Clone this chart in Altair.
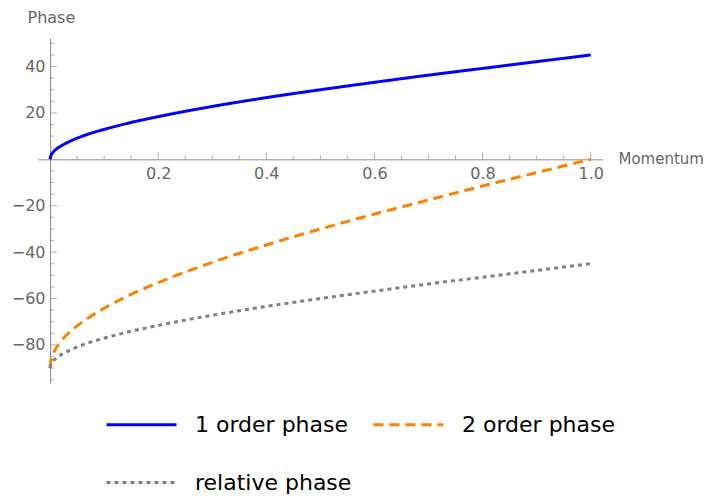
import altair as alt
import pandas as pd

# Sample momenta
momentum = [0, 0.002, 0.005, 0.01, 0.02, 0.03, 0.05, 0.075, 0.1, 0.15, 0.2,
            0.25, 0.3, 0.4, 0.5, 0.6, 0.7, 0.8, 0.9, 1.0]
order1 = [0, 1.8, 2.9, 4.1, 5.7, 7.0, 9.1, 11.2, 12.9, 15.9, 18.4,
          20.7, 22.8, 26.6, 30.0, 33.2, 36.3, 39.2, 42.1, 45.0]
order2 = [-90, -86.4, -84.3, -81.9, -78.5, -75.9, -71.8, -67.7, -64.2, -58.2, -53.1,
          -48.6, -44.4, -36.9, -30.0, -23.6, -17.5, -11.5, -5.7, 0.0]
relative = [-90, -88.2, -87.1, -86.0, -84.3, -83.0, -80.9, -78.8, -77.1, -74.1, -71.6,
            -69.3, -67.2, -63.4, -60.0, -56.8, -53.7, -50.8, -47.9, -45.0]
series_names = ["1 order phase", "2 order phase", "relative phase"]
series_colors = ["#0000ff", "#ff8000", "#808080"]
series_dashes = [[1, 0], [10, 6], [4, 4]]

x_major = [0.2, 0.4, 0.6, 0.8, 1.0]
x_minor = [0.05, 0.1, 0.15, 0.25, 0.3, 0.35, 0.45, 0.5, 0.55, 0.65, 0.7, 0.75,
           0.85, 0.9, 0.95]
y_major = [40, 20, -20, -40, -60, -80]
y_minor = [50, 45, 35, 30, 25, 15, 10, 5, -5, -10, -15, -25, -30, -35, -45, -50,
           -55, -65, -70, -75, -85, -90, -95]

rows = []
for name, vals in zip(series_names, [order1, order2, relative]):
    for m, v in zip(momentum, vals):
        rows.append({"Momentum": m, "Phase": v, "series": name})
df = pd.DataFrame(rows)

W, H = 564, 345
XDOM = [-0.0222, 1.0209]
YDOM = [-96.4, 52.3]
FONT = "DejaVu Sans"
AX = "#8a8a8a"
LAB = "#666666"

xscale = alt.Scale(domain=XDOM, nice=False, zero=False)
yscale = alt.Scale(domain=YDOM, nice=False, zero=False)

legend = alt.Legend(
    title=None, orient="none", legendX=67, legendY=350, columns=2, direction="horizontal",
    symbolType="stroke", symbolSize=4900, symbolStrokeWidth=3,
    labelFontSize=22, labelFont=FONT, labelColor="black", labelOffset=17,
    columnPadding=15, rowPadding=10,
)

lines = alt.Chart(df).mark_line(strokeWidth=3, interpolate="monotone").encode(
    x=alt.X("Momentum:Q", scale=xscale,
            axis=alt.Axis(orient="bottom", offset=-223.7, values=x_major, ticks=False,
                          format=".1f", labelFontSize=16, labelFont=FONT, labelColor=LAB,
                          labelPadding=6, domainColor=AX, grid=False,
                          title="Momentum", titleFont=FONT, titleFontSize=15,
                          titleFontWeight="normal", titleColor=LAB, titleAngle=0,
                          titleAlign="left", titleBaseline="middle",
                          titleX=580, titleY=-1)),
    y=alt.Y("Phase:Q", scale=yscale,
            axis=alt.Axis(orient="left", offset=-12, values=y_major, ticks=False,
                          labelFontSize=16, labelFont=FONT, labelColor=LAB,
                          labelPadding=5, domainColor=AX, grid=False,
                          title="Phase", titleFont=FONT, titleFontSize=16,
                          titleFontWeight="normal", titleColor=LAB, titleAngle=0,
                          titleAlign="left", titleBaseline="middle",
                          titleX=-23, titleY=-21)),
    color=alt.Color("series:N", scale=alt.Scale(domain=series_names, range=series_colors),
                    legend=legend),
    strokeDash=alt.StrokeDash("series:N",
                              scale=alt.Scale(domain=series_names, range=series_dashes),
                              legend=legend),
)

def xticks(vals, size):
    return alt.Chart(pd.DataFrame({"v": vals})).mark_tick(
        orient="vertical", size=size, thickness=1, color=AX, yOffset=-size / 2
    ).encode(x=alt.X("v:Q", scale=xscale), y=alt.datum(0, scale=yscale))

def yticks(vals, size):
    return alt.Chart(pd.DataFrame({"v": vals})).mark_tick(
        orient="horizontal", size=size, thickness=1, color=AX, xOffset=size / 2
    ).encode(y=alt.Y("v:Q", scale=yscale), x=alt.datum(0, scale=xscale))

chart = alt.layer(
    xticks(x_minor, 4), xticks(x_major, 7), yticks(y_minor, 4), yticks(y_major, 7), lines
).properties(
    width=W, height=H,
    padding={"left": 38, "top": 38, "right": 106, "bottom": 115},
    autosize=alt.AutoSizeParams(type="none"),
).configure_view(stroke=None)

chart.save("out.html", embed_options={"renderer": "svg", "actions": False})
